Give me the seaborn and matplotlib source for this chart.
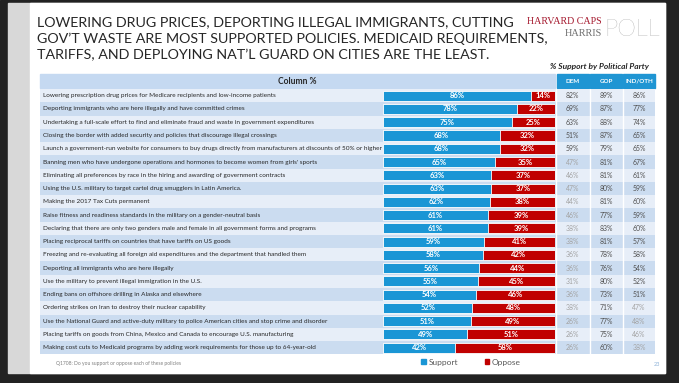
import matplotlib
matplotlib.use('Agg')
import matplotlib.pyplot as plt
import seaborn as sns
import pandas as pd
from matplotlib.patches import Rectangle, Patch

policies = [
    "Lowering prescription drug prices for Medicare recipients and low-income patients",
    "Deporting immigrants who are here illegally and have committed crimes",
    "Undertaking a full-scale effort to find and eliminate fraud and waste in government expenditures",
    "Closing the border with added security and policies that discourage illegal crossings",
    "Launch a government-run website for consumers to buy drugs directly from manufacturers at discounts of 50% or higher",
    "Banning men who have undergone operations and hormones to become women from girls' sports",
    "Eliminating all preferences by race in the hiring and awarding of government contracts",
    "Using the U.S. military to target cartel drug smugglers in Latin America.",
    "Making the 2017 Tax Cuts permanent",
    "Raise fitness and readiness standards in the military on a gender-neutral basis",
    "Declaring that there are only two genders male and female in all government forms and programs",
    "Placing reciprocal tariffs on countries that have tariffs on US goods",
    "Freezing and re-evaluating all foreign aid expenditures and the department that handled them",
    "Deporting all immigrants who are here illegally",
    "Use the military to prevent illegal immigration in the U.S.",
    "Ending bans on offshore drilling in Alaska and elsewhere",
    "Ordering strikes on Iran to destroy their nuclear capability",
    "Use the National Guard and active-duty military to police American cities and stop crime and disorder",
    "Placing tariffs on goods from China, Mexico and Canada to encourage U.S. manufacturing",
    "Making cost cuts to Medicaid programs by adding work requirements for those up to 64-year-old",
]
support = [86, 78, 75, 68, 68, 65, 63, 63, 62, 61, 61, 59, 58, 56, 55, 54, 52, 51, 49, 42]
oppose = [14, 22, 25, 32, 32, 35, 37, 37, 38, 39, 39, 41, 42, 44, 45, 46, 48, 49, 51, 58]
dem = [82, 69, 63, 51, 59, 47, 46, 47, 44, 46, 38, 38, 36, 36, 31, 36, 38, 26, 26, 26]
gop = [89, 87, 88, 87, 79, 81, 81, 80, 81, 77, 83, 81, 78, 76, 80, 73, 71, 77, 75, 60]
ind = [86, 77, 74, 65, 65, 67, 61, 59, 60, 59, 60, 57, 58, 54, 52, 51, 47, 48, 46, 38]
party_cols = ["DEM", "GOP", "IND/OTH"]
title_lines = [
    "LOWERING DRUG PRICES, DEPORTING ILLEGAL IMMIGRANTS, CUTTING",
    "GOV\u2019T WASTE ARE MOST SUPPORTED POLICIES. MEDICAID REQUIREMENTS,",
    "TARIFFS, AND DEPLOYING NAT\u2019L GUARD ON CITIES ARE THE LEAST.",
]

BLUE = "#1a96d5"
RED = "#c00000"
HDR_BLUE = "#1f95d3"
BAND_DARK = "#cbdcf0"
BAND_LIGHT = "#e7eef8"

sns.set_theme(style="white")
plt.rcParams["font.family"] = ["Lato", "DejaVu Sans"]

W, H = 679, 383
fig = plt.figure(figsize=(W / 100, H / 100), dpi=100)
R = fig.canvas.get_renderer()


def fit(t, target):
    w = t.get_window_extent(R).width
    t.set_fontsize(t.get_fontsize() * target / w)
    return t


# background slide
bg = fig.add_axes([0, 0, 1, 1])
bg.set_xlim(0, W)
bg.set_ylim(H, 0)
bg.axis("off")
bg.add_patch(Rectangle((0, 0), W, H, color="#222222"))
bg.add_patch(Rectangle((8, 3), 657, 370, color="#d8d8d8"))
bg.add_patch(Rectangle((30, 3), 635, 370, color="white"))

# title
for k, (line, y) in enumerate(zip(title_lines, [22, 39, 55])):
    t = bg.text(37, y, line, ha="left", va="center", color="#262626", fontsize=12)
    if k == 0:
        fit(t, 478)
        tfs = t.get_fontsize()
    else:
        t.set_fontsize(tfs)

# logo
t = bg.text(602, 22, "HARVARD CAPS", ha="right", va="center", color="#a5192e",
            family="Liberation Serif", fontsize=6)
fit(t, 76)
t = bg.text(602, 33, "HARRIS", ha="right", va="center", color="#6f6f6f",
            family="Liberation Serif", fontsize=6)
fit(t, 38)
t = bg.text(604, 29, "POLL", ha="left", va="center", color="#8a8a8a",
            fontweight="light", fontsize=20)
fit(t, 56)

t = bg.text(599, 66, "% Support by Political Party", ha="center", va="center",
            color="#262626", fontweight="bold", fontstyle="italic", fontsize=5)
fit(t, 100)

# table axes (rows in categorical units)
n = len(policies)
ROW_TOP, ROW_H = 89.1, 13.26
fb = 1 - (ROW_TOP + n * ROW_H) / H
fh = n * ROW_H / H


def py2i(py):
    return (py - ROW_TOP) / ROW_H - 0.5


at = fig.add_axes([0, fb, 1, fh])
at.set_xlim(0, W)
at.set_ylim(n - 0.5, -0.5)
at.axis("off")

# header
h0, h1 = py2i(74.5), py2i(88.3)
at.add_patch(Rectangle((40, h0), 515, h1 - h0, color="#c5d9f1", clip_on=False))
t = at.text(297, (h0 + h1) / 2, "Column %", ha="center", va="center",
            color="#262626", fontweight="bold", fontsize=6, clip_on=False)
fit(t, 39)
cells = [(556.5, 589), (590, 622), (623, 655)]
for (x0, x1), lab in zip(cells, party_cols):
    at.add_patch(Rectangle((x0, h0), x1 - x0, h1 - h0, color=HDR_BLUE, clip_on=False))
    t = at.text((x0 + x1) / 2, (h0 + h1) / 2, lab, ha="center", va="center",
                color="white", fontweight="bold", fontsize=4.5, clip_on=False)
    if lab == "IND/OTH":
        fit(t, 28)

# row bands + labels + party values
label_fs = None
for i, pol in enumerate(policies):
    col = BAND_DARK if i % 2 == 1 else BAND_LIGHT
    at.add_patch(Rectangle((40, i - 0.5), 615, 1, color=col, lw=0))
    t = at.text(43, i, pol, ha="left", va="center", color="#262626", fontsize=4.5)
    if label_fs is None:
        fit(t, 233)
        label_fs = t.get_fontsize()
    else:
        t.set_fontsize(label_fs)
    for (x0, x1), vals in zip(cells, [dem, gop, ind]):
        v = vals[i]
        at.text((x0 + x1) / 2, i, f"{v}%", ha="center", va="center",
                color="#505050" if v >= 50 else "#a3a3a3", fontsize=label_fs * 1.08)
for x in [556, 589.5, 622.5]:
    at.plot([x, x], [-0.5, n - 0.5], color="white", lw=1)

# bars
df = pd.DataFrame({
    "policy": policies,
    "support": support,
    "total": [s + o for s, o in zip(support, oppose)],
})
ab = fig.add_axes([383 / W, fb, 172 / W, fh])
sns.barplot(data=df, y="policy", x="total", color=RED, saturation=1, width=0.76,
            edgecolor="white", linewidth=0.6, ax=ab, orient="h")
sns.barplot(data=df, y="policy", x="support", color=BLUE, saturation=1, width=0.76,
            edgecolor="white", linewidth=0.6, ax=ab, orient="h")
ab.set_xlim(0, 100)
ab.set_ylim(n - 0.5, -0.5)
ab.axis("off")
bar_fs = None
for i, (s, o) in enumerate(zip(support, oppose)):
    t1 = ab.text(s / 2, i, f"{s}%", ha="center", va="center", color="white",
                 fontweight="bold", fontsize=5.5)
    if bar_fs is None:
        fit(t1, 15)
        bar_fs = t1.get_fontsize()
    else:
        t1.set_fontsize(bar_fs)
    ab.text(s + o / 2, i, f"{o}%", ha="center", va="center", color="white",
            fontweight="bold", fontsize=bar_fs)

# footer
t = bg.text(56, 364, "Q1708: Do you support or oppose each of these policies",
            ha="left", va="center", color="#7f7f7f", fontsize=3.5)
fit(t, 126)
bg.text(657, 365, "23", ha="center", va="center", color="#8fb3d9", fontsize=4)

fig.legend(handles=[Patch(color=BLUE, label="Support"), Patch(color=RED, label="Oppose")],
           ncol=2, loc="center", bbox_to_anchor=(471 / W, 1 - 362 / H), frameon=False,
           fontsize=6, handlelength=0.55, handleheight=0.55, handletextpad=0.3,
           columnspacing=3.2, labelcolor="#595959", borderpad=0)

fig.savefig("out.png", dpi=100)
